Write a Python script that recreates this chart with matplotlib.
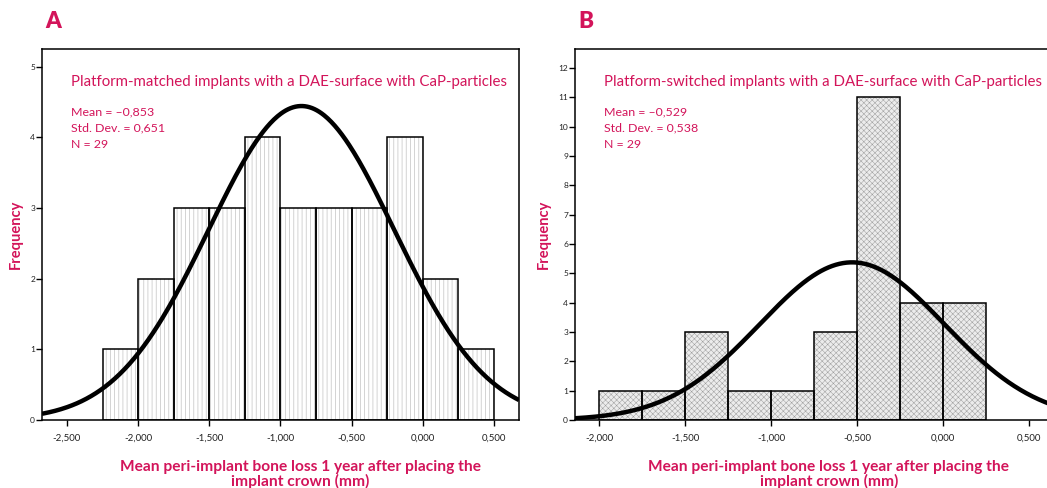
import numpy as np
import matplotlib
matplotlib.use('Agg')
import matplotlib.pyplot as plt
from matplotlib.ticker import FuncFormatter

plt.rcParams['font.family'] = ['Lato', 'DejaVu Sans']

CRIMSON = '#d3145a'

# panel A: platform-matched
edges_a = [-2.25, -2.0, -1.75, -1.5, -1.25, -1.0, -0.75, -0.5, -0.25, 0.0, 0.25, 0.5]
counts_a = [1, 2, 3, 3, 4, 3, 3, 3, 4, 2, 1]
mean_a, sd_a, n_a = -0.853, 0.651, 29
title_a = 'Platform-matched implants with a DAE-surface with CaP-particles'
xticks_a = [-2.5, -2.0, -1.5, -1.0, -0.5, 0.0, 0.5]
yticks_a = [0, 1, 2, 3, 4, 5]

# panel B: platform-switched
edges_b = [-2.0, -1.75, -1.5, -1.25, -1.0, -0.75, -0.5, -0.25, 0.0, 0.25]
counts_b = [1, 1, 3, 1, 1, 3, 11, 4, 4]
mean_b, sd_b, n_b = -0.529, 0.538, 29
title_b = 'Platform-switched implants with a DAE-surface with CaP-particles'
xticks_b = [-2.0, -1.5, -1.0, -0.5, 0.0, 0.5]
yticks_b = list(range(0, 13))

xlabel = 'Mean peri-implant bone loss 1 year after placing the\nimplant crown (mm)'


def comma_fmt(v, pos):
    return f'{v:.3f}'.replace('.', ',')


def num(v):
    return f'{v:.3f}'.replace('.', ',').replace('-', '\u2013')


def draw_panel(ax, edges, counts, mean, sd, n, title, xticks, yticks, xlim, ylim,
               hatch, hcolor, hlw, face, xlab_x):
    edges = np.array(edges)
    widths = np.diff(edges)
    plt.rcParams['hatch.linewidth'] = hlw
    # hatch layer (hatch takes the edge colour), then the black outlines on top
    ax.bar(edges[:-1], counts, width=widths, align='edge', color=face,
           edgecolor=hcolor, linewidth=0, hatch=hatch, zorder=2)
    ax.bar(edges[:-1], counts, width=widths, align='edge', fill=False,
           edgecolor='black', linewidth=1.1, zorder=2.5)
    # normal curve from the stated mean / sd, scaled to counts
    xs = np.linspace(xlim[0], xlim[1], 400)
    bw = widths[0]
    ys = n * bw / (sd * np.sqrt(2 * np.pi)) * np.exp(-0.5 * ((xs - mean) / sd) ** 2)
    ax.plot(xs, ys, color='black', lw=3.2, zorder=3, solid_capstyle='butt')

    ax.set_xlim(*xlim)
    ax.set_ylim(*ylim)
    ax.set_xticks(xticks)
    ax.xaxis.set_major_formatter(FuncFormatter(comma_fmt))
    ax.set_yticks(yticks)
    ax.tick_params(axis='x', labelsize=7, length=4, width=1, pad=6, labelcolor='#222222')
    ax.tick_params(axis='y', labelsize=6, length=4, width=1, pad=1, labelcolor='#222222')
    for s in ax.spines.values():
        s.set_linewidth(1.1)

    ax.text(0.06, 0.93, title, transform=ax.transAxes, color=CRIMSON,
            fontsize=10.8, va='top')
    stats = f'Mean = {num(mean)}\nStd. Dev. = {num(sd)}\nN = {n}'
    ax.text(0.06, 0.845, stats, transform=ax.transAxes, color=CRIMSON,
            fontsize=8.9, va='top', linespacing=1.6)
    ax.set_ylabel('Frequency', color=CRIMSON, fontsize=10.5, fontweight='bold', labelpad=5)
    ax.set_xlabel(xlabel, color=CRIMSON, fontsize=11.2, fontweight='bold',
                  linespacing=1.0)
    ax.xaxis.set_label_coords(xlab_x, -0.108)


fig = plt.figure(figsize=(10.47, 4.88), dpi=100)
ax_a = fig.add_axes([0.0401, 0.1393, 0.4556, 0.7603])
ax_b = fig.add_axes([0.5492, 0.1393, 0.4600, 0.7603])

draw_panel(ax_a, edges_a, counts_a, mean_a, sd_a, n_a, title_a, xticks_a, yticks_a,
           (-2.675, 0.675), (0, 5.25), '||||', '#cccccc', 0.6, 'white', 0.541)
draw_panel(ax_b, edges_b, counts_b, mean_b, sd_b, n_b, title_b, xticks_b, yticks_b,
           (-2.14, 0.66), (0, 12.65), 'xxxxxx', '#9c9c9c', 0.35, '#ececec', 0.527)

fig.text(45 / 1047, 1 - 22 / 488, 'A', color=CRIMSON, fontsize=16, fontweight='heavy', va='center')
fig.text(578 / 1047, 1 - 22 / 488, 'B', color=CRIMSON, fontsize=16, fontweight='heavy', va='center')

fig.savefig('out.png', dpi=100)
